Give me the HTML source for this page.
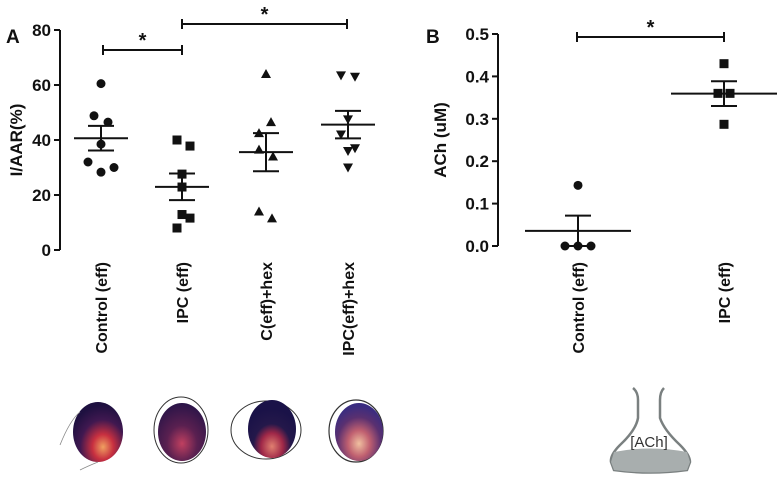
<!DOCTYPE html>
<html><head><meta charset="utf-8"><style>
body{margin:0;background:#fff;width:777px;height:476px;overflow:hidden}
svg text{font-family:"Liberation Sans",sans-serif;font-weight:bold;fill:#111}
</style></head><body>
<svg id="fig" width="777" height="476" viewBox="0 0 777 476" xmlns="http://www.w3.org/2000/svg">
<defs>
<radialGradient id="hg1" cx="0.6" cy="0.75" r="0.7"><stop offset="0" stop-color="#f0a060"/><stop offset="0.3" stop-color="#c83040"/><stop offset="0.65" stop-color="#401850"/><stop offset="1" stop-color="#1e1040"/></radialGradient>
<radialGradient id="hg2" cx="0.5" cy="0.7" r="0.7"><stop offset="0" stop-color="#c04060"/><stop offset="0.45" stop-color="#5a2050"/><stop offset="1" stop-color="#2a1448"/></radialGradient>
<radialGradient id="hg3" cx="0.5" cy="0.8" r="0.65"><stop offset="0" stop-color="#e08070"/><stop offset="0.35" stop-color="#a02848"/><stop offset="0.6" stop-color="#24184a"/><stop offset="1" stop-color="#1a1248"/></radialGradient>
<radialGradient id="hg4" cx="0.5" cy="0.7" r="0.65"><stop offset="0" stop-color="#f0c0a0"/><stop offset="0.35" stop-color="#c06070"/><stop offset="0.7" stop-color="#5a3070"/><stop offset="1" stop-color="#3a2c80"/></radialGradient>
</defs>
<g id="panelA"></g>
<g id="panelB"></g>
<g>
<ellipse cx="98" cy="432" rx="25" ry="30" fill="url(#hg1)"/>
<path d="M60 445 Q70 420 80 412 M98 462 Q88 466 80 470" stroke="#888" fill="none" stroke-width="0.8"/>
<ellipse cx="181" cy="430" rx="27" ry="33" fill="none" stroke="#333" stroke-width="1"/>
<ellipse cx="182" cy="432" rx="24" ry="29" fill="url(#hg2)"/>
<ellipse cx="266" cy="430" rx="35" ry="29" fill="none" stroke="#333" stroke-width="1"/>
<ellipse cx="272" cy="429" rx="24" ry="29" fill="url(#hg3)"/>
<ellipse cx="356" cy="431" rx="27" ry="31" fill="none" stroke="#333" stroke-width="1.2"/>
<ellipse cx="359" cy="432" rx="24" ry="29" fill="url(#hg4)"/>
</g>
<g>
<path d="M633 388 Q638 392 638 400 L638 418 Q636 430 620 445 Q610 455 611 462 L614 470 Q650 475 687 470 L690 462 Q690 455 680 445 Q664 430 660 418 L660 400 Q660 392 664 388" fill="#fff" stroke="#7a8080" stroke-width="2.5"/>
<path d="M614 452 Q650 445 687 452 L690 462 L687 470 Q650 475 614 470 L611 462 Z" fill="#a8aeae"/>
<text x="649" y="447" text-anchor="middle" font-size="15" style="font-weight:normal;fill:#333">[ACh]</text>
</g>
</svg>
<script>
const NS="http://www.w3.org/2000/svg";
// Panel A data
const catsA=["Control (eff)","IPC (eff)","C(eff)+hex","IPC(eff)+hex"];
const valsControl=[60.5,48.8,46.5,38.5,32,30,28.3];
const valsIPC=[40,37.8,27.6,22.9,12.9,11.6,8];
const valsChex=[64,46.5,42.5,36.5,34,14,11.5];
const valsIPChex=[63.5,63,47.5,42,37,36,30];
const ticksA=[0,20,40,60,80];
// Panel B data
const catsB=["Control (eff)","IPC (eff)"];
const valsBControl=[0.143,0,0,0];
const valsBIPC=[0.43,0.36,0.36,0.287];
const ticksB=[0,0.1,0.2,0.3,0.4,0.5];

const jitA=[[0,-7,7,0,-13,13,0],[-5,8,0,0,0,8,-5],[0,5,-7,-7,7,-7,6],[-7,7,0,-7,7,0,0]];
const jitB=[[0,-13,0,13],[0,-6,6,0]];

function el(p,t,a){const e=document.createElementNS(NS,t);for(const k in a)e.setAttribute(k,a[k]);p.appendChild(e);return e;}
function marker(g,shape,x,y){
  let m;
  if(shape==="circle")m=el(g,"circle",{cx:x,cy:y,r:4.5,fill:"#111"});
  else if(shape==="square")m=el(g,"rect",{x:x-4.5,y:y-4.5,width:9,height:9,fill:"#111"});
  else if(shape==="up")m=el(g,"polygon",{points:`${x},${y-5} ${x-5},${y+4} ${x+5},${y+4}`,fill:"#111"});
  else m=el(g,"polygon",{points:`${x},${y+5} ${x-5},${y-4} ${x+5},${y-4}`,fill:"#111"});
  
  
}
function stats(a){const n=a.length,m=a.reduce((s,v)=>s+v,0)/n;const sd=Math.sqrt(a.reduce((s,v)=>s+(v-m)**2,0)/(n-1));return [m,sd/Math.sqrt(n)];}
function meanSem(g,x,vals,y,w){
  const [m,s]=stats(vals);
  const l1=el(g,"line",{x1:x-w,x2:x+w,y1:y(m),y2:y(m),stroke:"#111","stroke-width":2});
  
  const l2=el(g,"path",{d:`M${x-13} ${y(m+s)}H${x+13}M${x-13} ${y(m-s)}H${x+13}M${x} ${y(m+s)}V${y(m-s)}`,stroke:"#111","stroke-width":2,fill:"none"});
  
}
function bracket(g,x1,x2,y){
  const p=el(g,"path",{d:`M${x1} ${y-5}V${y+5}M${x1} ${y}H${x2}M${x2} ${y-5}V${y+5}`,stroke:"#111","stroke-width":2,fill:"none"});
  
  const t=el(g,"text",{x:(x1+x2)/2,y:y-3,"text-anchor":"middle","font-size":20});t.textContent="*";
  
}
function axis(g,ax,y,ticks,fmt,top){
  const p=el(g,"path",{d:`M${ax} ${y(ticks[ticks.length-1])}V${y(0)}`,stroke:"#111","stroke-width":2,fill:"none"});
  
  ticks.forEach(t=>{
    const l=el(g,"line",{x1:ax-6,x2:ax,y1:y(t),y2:y(t),stroke:"#111","stroke-width":2});
    
    const tx=el(g,"text",{x:ax-9,y:y(t)+6,"text-anchor":"end","font-size":17});tx.textContent=fmt(t);
    
  });
}
function xlabels(g,cats,xs){
  cats.forEach((c,i)=>{
    const t=el(g,"text",{transform:`translate(${xs[i]+6},262) rotate(-90)`,"text-anchor":"end","font-size":16});t.textContent=c;
    
  });
}
// Panel A
const gA=document.getElementById("panelA");
const yA=v=>250-v*(220/80);
const xsA=[101,182,266,348];
axis(gA,60,yA,ticksA,t=>String(t));
const tA=el(gA,"text",{x:6,y:43,"font-size":19});tA.textContent="A";

const yt=el(gA,"text",{transform:"translate(22,140) rotate(-90)","text-anchor":"middle","font-size":17});yt.textContent="I/AAR(%)";

const groupsA=[valsControl,valsIPC,valsChex,valsIPChex],shapesA=["circle","square","up","down"];
groupsA.forEach((vals,i)=>{vals.forEach((v,j)=>marker(gA,shapesA[i],xsA[i]+jitA[i][j],yA(v)));meanSem(gA,xsA[i],vals,yA,27);});
xlabels(gA,catsA,xsA);
bracket(gA,103,182,50);bracket(gA,182,347,24);
// Panel B
const gB=document.getElementById("panelB");
const yB=v=>246-v*(212/0.5);
const xsB=[578,724];
axis(gB,498,yB,ticksB,t=>t.toFixed(1));
const tB=el(gB,"text",{x:426,y:43,"font-size":19});tB.textContent="B";

const ytb=el(gB,"text",{transform:"translate(446,140) rotate(-90)","text-anchor":"middle","font-size":17});ytb.textContent="ACh (uM)";

[valsBControl,valsBIPC].forEach((vals,i)=>{vals.forEach((v,j)=>marker(gB,i?"square":"circle",xsB[i]+jitB[i][j],yB(v)));meanSem(gB,xsB[i],vals,yB,53);});
xlabels(gB,catsB,xsB);
bracket(gB,577,724,37);
</script>
</body></html>
